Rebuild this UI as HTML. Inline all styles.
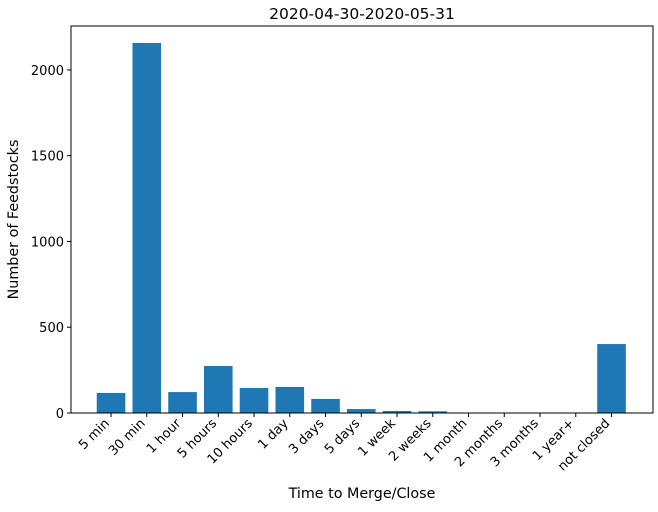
<!DOCTYPE html>
<html><head><meta charset="utf-8"><style>
body{margin:0;background:#fff;font-family:"DejaVu Sans","Liberation Sans",sans-serif;}
</style></head><body>
<svg id="chart" width="658" height="508" xmlns="http://www.w3.org/2000/svg" font-family="DejaVu Sans, Liberation Sans, sans-serif"></svg>
<script>
const categories=["5 min","30 min","1 hour","5 hours","10 hours","1 day","3 days","5 days","1 week","2 weeks","1 month","2 months","3 months","1 year+","not closed"];
const values=[117,2157,122,274,146,152,82,23,12,10,0,0,0,0,402];
const yTicks=[0,500,1000,1500,2000];
const L=71,R=653,T=26,B=413;
const xMin=-1.12,xMax=15.16,yMax=2256;
const X=v=>L+(v-xMin)/(xMax-xMin)*(R-L);
const Y=v=>B-v/yMax*(B-T);
const svg=document.getElementById('chart');
const NS='http://www.w3.org/2000/svg';
function mk(t,a,txt){const e=document.createElementNS(NS,t);for(const k in a)e.setAttribute(k,a[k]);if(txt!==undefined)e.textContent=txt;svg.appendChild(e);return e;}
const bw=0.8*(R-L)/(xMax-xMin);
categories.forEach((c,i)=>{
 const r=mk('rect',{x:X(i)-bw/2,y:Y(values[i]),width:bw,height:B-Y(values[i]),fill:'#1f77b4'});
 
 
 const tk=mk('line',{x1:X(i),x2:X(i),y1:B,y2:B+4,stroke:'#000','stroke-width':1});
 
 
 const ax=X(i)-1,ay=B+11;
 const t=mk('text',{x:ax,y:ay,'font-size':13,'text-anchor':'end',transform:`rotate(-45 ${ax} ${ay})`},c);
 
 
});
yTicks.forEach(v=>{
 const tk=mk('line',{x1:L-4,x2:L,y1:Y(v),y2:Y(v),stroke:'#000','stroke-width':1});
 
 
 const t=mk('text',{x:L-7,y:Y(v)+5,'font-size':13,'text-anchor':'end'},v);
 
 
});
const f=mk('rect',{x:L,y:T,width:R-L,height:B-T,fill:'none',stroke:'#000','stroke-width':1});


const ti=mk('text',{x:(L+R)/2,y:19,'font-size':15.5,'text-anchor':'middle'},'2020-04-30-2020-05-31');


const xt=mk('text',{x:(L+R)/2,y:498,'font-size':14.3,'text-anchor':'middle'},'Time to Merge/Close');


const yt=mk('text',{x:18,y:(T+B)/2,'font-size':14.3,'text-anchor':'middle',transform:`rotate(-90 18 ${(T+B)/2})`},'Number of Feedstocks');


</script>
</body></html>
